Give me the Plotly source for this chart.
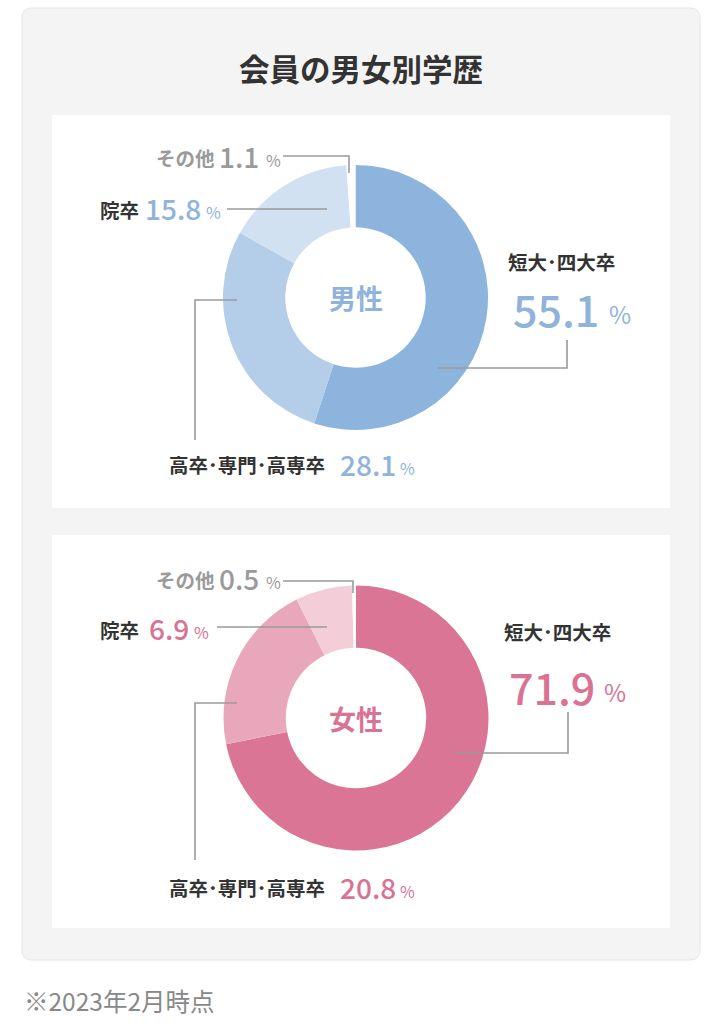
import plotly.graph_objects as go

W, H = 722, 1024
FONT = "Noto Sans CJK JP"

# ---- data ----
title_text = "会員の男女別学歴"
footnote_text = "※2023年2月時点"
categories = ["短大・四大卒", "高卒・専門・高専卒", "院卒", "その他"]
male_values = [55.1, 28.1, 15.8, 1.1]
female_values = [71.9, 20.8, 6.9, 0.5]
group_names = ["男性", "女性"]

# ---- styles ----
male_colors = ["#8db4dc", "#b4cde8", "#d1e1f2", "#ffffff"]
female_colors = ["#db7595", "#e9a7bb", "#f3ced9", "#ffffff"]
male_text = "#8fb3da"
female_text = "#d87393"
dark = "#333333"
grey = "#9a9a9a"
line_col = "#9a9a9a"

# rows: (label_y, value_y, pct_y, label_size, value_size, pct_size)
charts = [
    dict(vals=male_values, cols=male_colors, tc=male_text, name=group_names[0],
         cx=355.5, cy=297.5, r=132.5,
         rows=[(261, 308, 313, 19.5, 43, 24), (464, 464, 468, 19.5, 28, 16),
               (209, 208, 212, 19.5, 28, 16), (157, 156, 160, 19.5, 28, 16)],
         lab_x=[506, 167, 98, 154], val_x=[511, 338, 143, 217], pct_x=[607, 398, 204, 264],
         lines=[[(438, 368), (567, 368), (567, 340)],
                [(237, 300), (195, 300), (195, 440)],
                [(227, 209), (327, 209)],
                [(283, 156), (349, 156), (349, 173)]]),
    dict(vals=female_values, cols=female_colors, tc=female_text, name=group_names[1],
         cx=356, cy=718, r=132.5,
         rows=[(631, 686, 691, 19.5, 43, 24), (887, 887, 891, 19.5, 28, 16),
               (629, 628, 632, 19.5, 28, 16), (579, 578, 582, 19.5, 28, 16)],
         lab_x=[502, 167, 98, 154], val_x=[507, 338, 147, 217], pct_x=[602, 398, 192, 264],
         lines=[[(455, 753), (568, 753), (568, 712)],
                [(237, 703), (195, 703), (195, 860)],
                [(217, 627), (327, 627)],
                [(283, 581), (353, 581), (353, 593)]]),
]

fig = go.Figure()
shapes = []
annotations = []


def rrect(x0, y0, x1, y1, r):
    return (f"M{x0+r},{y0} L{x1-r},{y0} Q{x1},{y0} {x1},{y0+r} L{x1},{y1-r} Q{x1},{y1} {x1-r},{y1} "
            f"L{x0+r},{y1} Q{x0},{y1} {x0},{y1-r} L{x0},{y0+r} Q{x0},{y0} {x0+r},{y0} Z")


shapes.append(dict(type="path", path=rrect(22, 8, 700, 960, 10), xref="x", yref="y",
                   fillcolor="#f4f4f4", line=dict(color="#e6e6e6", width=1), layer="below"))
shapes.append(dict(type="rect", x0=52, y0=115, x1=670, y1=508, xref="x", yref="y",
                   fillcolor="#ffffff", line=dict(width=0), layer="below"))
shapes.append(dict(type="rect", x0=52, y0=535, x1=670, y1=928, xref="x", yref="y",
                   fillcolor="#ffffff", line=dict(width=0), layer="below"))

annotations.append(dict(text=f"<b>{title_text}</b>", x=361, y=68, xref="x", yref="y",
                        showarrow=False, font=dict(family=FONT, size=30.5, color=dark)))
annotations.append(dict(text=footnote_text, x=22, y=1000, xref="x", yref="y", xanchor="left",
                        showarrow=False, font=dict(family=FONT, size=24.5, color="#888888")))

for c in charts:
    fig.add_trace(go.Pie(
        values=c["vals"], labels=categories, sort=False, direction="clockwise", rotation=0,
        hole=0.53, marker=dict(colors=c["cols"], line=dict(width=0)),
        textinfo="none", hoverinfo="skip", showlegend=False,
        domain=dict(x=[(c["cx"] - c["r"]) / W, (c["cx"] + c["r"]) / W],
                    y=[1 - (c["cy"] + c["r"]) / H, 1 - (c["cy"] - c["r"]) / H]),
    ))
    annotations.append(dict(text=f"<b>{c['name']}</b>", x=c["cx"], y=c["cy"], xref="x", yref="y",
                            showarrow=False, font=dict(family=FONT, size=27, color=c["tc"])))
    for i, cat in enumerate(categories):
        ly, vy, py, ls, vs, ps = c["rows"][i]
        is_other = (i == 3)
        lab_col = grey if is_other else dark
        val_col = grey if is_other else c["tc"]
        shown = cat.replace("・", "･")
        annotations.append(dict(text=f"<b>{shown}</b>", x=c["lab_x"][i], y=ly, xref="x", yref="y",
                                xanchor="left", showarrow=False,
                                font=dict(family=FONT, size=ls, color=lab_col)))
        annotations.append(dict(text=f"{c['vals'][i]:.1f}", x=c["val_x"][i], y=vy, xref="x", yref="y",
                                xanchor="left", showarrow=False,
                                font=dict(family=FONT, size=vs, color=val_col, weight=500)))
        annotations.append(dict(text="%", x=c["pct_x"][i], y=py, xref="x", yref="y",
                                xanchor="left", showarrow=False,
                                font=dict(family=FONT, size=ps, color=val_col)))
    for pts in c["lines"]:
        path = "M" + " L".join(f"{x},{y}" for x, y in pts)
        shapes.append(dict(type="path", path=path, xref="x", yref="y",
                           line=dict(color=line_col, width=1.6), layer="above"))

fig.update_layout(
    width=W, height=H, margin=dict(l=0, r=0, t=0, b=0),
    paper_bgcolor="#ffffff", plot_bgcolor="rgba(0,0,0,0)",
    xaxis=dict(range=[0, W], visible=False, fixedrange=True, domain=[0, 1]),
    yaxis=dict(range=[H, 0], visible=False, fixedrange=True, domain=[0, 1]),
    shapes=shapes, annotations=annotations, showlegend=False,
)

fig.write_html("out.html")
